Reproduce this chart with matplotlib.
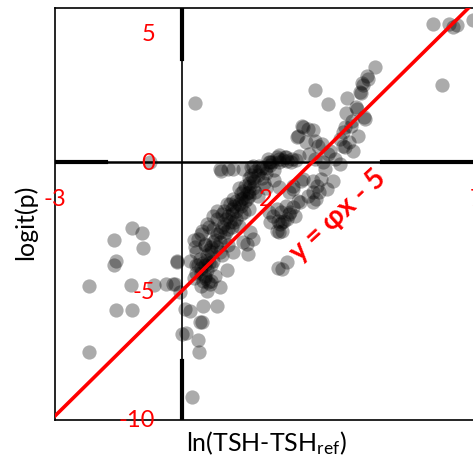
import numpy as np
import matplotlib.pyplot as plt

plt.rcParams['font.family'] = ['Lato', 'DejaVu Sans']
plt.rcParams['mathtext.fontset'] = 'custom'
plt.rcParams['mathtext.rm'] = 'Lato'
plt.rcParams['mathtext.default'] = 'regular'

# points: (ln(TSH-TSHref), logit(p))
x_pts = [-1.18, -0.94, -1.60, -0.92, -1.56, -1.60, -2.20, -1.20, -0.66, -0.37, -0.11, -0.16,
         -1.56, -1.18, -2.20, 0.01, 0.32, -0.75, 0.93, 1.22,
         2.28, 1.07, 0.20, 0.48, 0.10, 0.39, 0.41, 0.24, 0.84, 0.50, 0.91, 0.62, 0.67, -0.04,
         -0.21, 0.08, 0.43,
         5.96, 6.33, 6.52, 6.43, 6.90, 6.17, 4.58, 4.42, 4.30, 4.25, 3.16, 3.92, 3.47, 4.13,
         4.32, 3.89, 4.01, 4.18, 3.82, 3.97, 4.06, 3.82, 4.16, 4.04, 4.35, 3.87, 3.75, 3.87,
         3.51, 4.22, 4.27, 4.39,
         2.88, 2.76, 3.11, 2.95, 3.23, 3.47, 3.35, 3.02, 2.78, 2.47, 2.31, 2.07, 1.83, 1.64,
         1.45, 2.85, 2.73, 2.99, 3.16, 3.33, 3.63, 3.75, 2.62, 3.16,
         3.59, 3.30, 3.11, 2.83, 2.64, 3.26, 3.18, 2.99, 2.54, 2.31, 2.47, 2.76, 2.54, 2.35,
         2.42, 2.28, 2.07, 3.21, 3.11, 2.88, 2.64, 3.11, 2.80, 2.64, 2.57, 2.69, 2.50, 2.38,
         2.38, 2.38, 2.31, 1.57, 1.45, 3.40, 3.45,
         1.69, 2.09, 2.26, 2.45, 1.10, 0.91, 1.62, 1.74, 1.55, 1.22, 1.07, 0.84, 0.74, 0.60,
         0.48, 0.39, 0.55, 0.32, -0.11, 0.20, 0.43, 0.74, 0.91, 1.22, 1.55, 1.62, 1.69, 2.26,
         2.33, 2.26, 2.09, 2.16, 2.50,
         0.45, 0.55, 0.60, 0.70, 0.80, 0.90, 1.00, 1.10, 1.20, 1.30, 1.40, 1.50, 1.60, 1.75,
         1.90, 2.10, 2.30, 2.50, 2.70, 0.50, 0.65, 0.85, 1.05, 1.25, 1.45, 1.65, 0.95, 1.15,
         1.35, 0.75, 0.60, 0.40, 0.35, 0.55, 1.00, 1.20, 1.40, 1.50, 1.70, 1.90, 2.00, 2.20,
         1.30, 1.60, 1.80, 2.00, 0.80, 0.70,
         1.59, 1.71, 1.41, 1.48, 1.36,
         0.50, 0.45, 0.60, 0.70, 0.75, 0.85, 0.95, 1.05, 1.15, 1.20, 1.30, 1.35, 1.45, 1.55,
         1.60, 1.70, 1.80, 1.85, 2.00, 2.15, 2.40, 2.60, 0.65, 0.90, 1.10, 1.25, 1.40, 1.60,
         0.55, 0.35, 0.30, 0.45, 0.65, 0.85, 1.00, 2.30, 2.05, 1.95, 2.20, 1.10, 0.95,
         0.30, 0.45, 0.60, 0.55, 0.35, 0.70]
y_pts = [-2.54, -2.74, -3.01, -3.32, -3.83, -3.99, -4.81, -4.76, -4.76, -4.72, -3.87, -4.72,
         -5.74, -5.74, -7.38, -6.67, 2.29, 0.03, -0.32, -0.25,
         -4.10, -4.18, -5.78, -6.21, -6.64, -6.91, -7.38, -9.13, -5.59, -5.59, -4.85, -4.64,
         -4.72, -5.04, -4.72, -5.70, -6.21,
         5.36, 5.36, 5.32, 5.28, 5.52, 2.99, 3.69, 3.26, 2.99, 2.68, 2.83, 2.52, 2.25, 2.17,
         1.78, 1.90, 1.43, 1.04, 1.20, 0.81, 0.46, 0.65, 2.09, 1.62, 1.70, 1.39, 0.92, 0.61,
         0.46, 2.75, 3.07, 3.34,
         1.39, 1.04, 1.27, 0.81, 0.65, 0.34, 0.03, 0.34, 0.26, 0.22, 0.14, 0.03, -0.13, -0.17,
         -0.25, 1.43, 1.00, 1.31, 0.85, 0.73, 0.14, -0.05, 0.14, 0.14,
         -0.71, -0.64, -0.71, -0.71, -0.91, -1.14, -1.41, -1.30, -1.14, -0.95, -1.69, -1.49,
         -2.00, -1.92, -2.27, -2.27, -1.92, -0.91, -1.14, -0.64, -1.02, -1.53, -1.53, -1.73,
         -1.92, -2.08, -2.19, -2.31, -2.66, -4.14, -2.70, -3.56, -3.09, -0.25, -1.02,
         -0.13, 0.03, 0.22, 0.22, -0.25, -0.25, -0.91, -1.14, -1.41, -1.41, -1.61, -1.88,
         -2.08, -2.39, -2.66, -2.97, -3.17, -3.28, -3.83, -3.83, -3.75, -3.83, -3.48, -3.48,
         -3.17, -2.70, -2.97, -1.80, -2.39, -2.66, -2.31, -2.08, -3.87,
         -4.30, -4.00, -3.60, -3.30, -3.00, -2.70, -2.40, -2.10, -1.80, -1.50, -1.20, -0.90,
         -0.60, -0.35, -0.20, -0.10, 0.00, 0.05, 0.10, -3.90, -3.40, -2.80, -2.20, -1.70,
         -1.10, -0.50, -2.00, -1.60, -1.00, -2.60, -4.20, -4.00, -3.50, -3.20, -2.90, -2.50,
         -2.00, -1.50, -1.00, -0.60, -0.40, -0.30, -2.20, -1.80, -1.30, -1.00, -4.40, -4.00,
         -1.14, -0.71, -1.41, -1.92, -2.47,
         -4.60, -4.10, -3.80, -3.50, -3.10, -3.30, -2.50, -2.70, -2.30, -2.00, -1.90, -1.60,
         -1.40, -1.20, -0.80, -0.60, -0.50, -0.30, -0.20, 0.00, 0.10, 0.00, -3.90, -3.10,
         -2.60, -2.30, -1.70, -1.30, -4.40, -4.30, -3.00, -2.80, -2.50, -2.20, -1.90, 0.30,
         0.15, -0.80, -0.70, -3.20, -3.60,
         -4.50, -4.80, -5.00, -4.50, -4.00, -4.60]

phi = (1 + 5 ** 0.5) / 2
x_ticks = [-3, 2, 7]
y_ticks = [5, 0, -5, -10]

fig = plt.figure(figsize=(4.73, 4.6), dpi=100)
ax = fig.add_axes([55 / 473, 39.3 / 460, 422 / 473, 411.7 / 460])
ax.set_xlim(-3, 7)
ax.set_ylim(-10, 6)

ax.scatter(x_pts, y_pts, s=105, color='black', alpha=0.33, linewidths=0, zorder=2)

# axes through the origin, thin with thick ends
ax.axvline(0, color='black', lw=1.2, zorder=3)
ax.axhline(0, color='black', lw=1.8, zorder=3)
ax.plot([0, 0], [4, 6], color='black', lw=3, zorder=3)
ax.plot([0, 0], [-10, -7.7], color='black', lw=3, zorder=3)
ax.plot([-3, -1.8], [0, 0], color='black', lw=3, zorder=3)
ax.plot([4.75, 7], [0, 0], color='black', lw=3, zorder=3)

xl = np.array([-3.2, 7.2])
ax.plot(xl, phi * xl - 5, color='red', lw=2.6, zorder=4)

for v in y_ticks:
    ax.text(-0.63, v, str(v), color='red', fontsize=17, ha='right', va='center', zorder=5)
for v in x_ticks:
    ax.text(v, -1.42, str(v), color='red', fontsize=17, ha='center', va='center', zorder=5)

ax.text(3.7, -2.04, 'y = φx - 5', color='red', fontsize=20, fontweight='bold',
        rotation=43, ha='center', va='center', rotation_mode='anchor', zorder=5)

ax.set_xticks([])
ax.set_yticks([])
for side in ['left', 'top', 'bottom', 'right']:
    ax.spines[side].set_linewidth(1.2)

fig.text(266 / 473, 1 - 443 / 460, r'ln(TSH-TSH$_{ref}$)', fontsize=18, ha='center', va='center')
fig.text(25 / 473, 1 - 222 / 460, 'logit(p)', fontsize=18, rotation=90, ha='center', va='center')

fig.savefig('out.png', dpi=100)
